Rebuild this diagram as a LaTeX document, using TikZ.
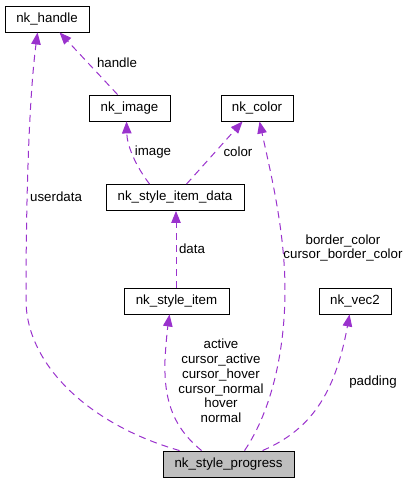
\documentclass[tikz,border=0pt]{standalone}
\usepackage{fontspec}
\setmainfont{Liberation Sans}
\usepackage{xcolor}
\usetikzlibrary{arrows.meta, positioning, calc}
\definecolor{edgepurple}{HTML}{9A32CD}
\definecolor{boxgray}{HTML}{BFBFBF}

\begin{document}
\begin{tikzpicture}[x=1pt, y=-1pt,
    cls/.style={draw, line width=0.9pt, minimum height=26pt, inner sep=0pt, font=\fontsize{13.3}{14.8}\selectfont},
    link/.style={-{Triangle[length=12pt, width=9.5pt]}, line width=1pt, dash pattern=on 7pt off 5pt, draw=edgepurple},
    lbl/.style={font=\fontsize{13.3}{14.8}\selectfont, align=center, inner sep=0pt}
]
\useasboundingbox (0,0) rectangle (409,483);
% Classes
\node[cls, minimum width=84pt] (handle) at (47,19) {nk\_handle};
\node[cls, minimum width=81pt] (image) at (129.5,108) {nk\_image};
\node[cls, minimum width=72pt] (color) at (257,108) {nk\_color};
\node[cls, minimum width=138pt] (itemdata) at (175,197.5) {nk\_style\_item\_data};
\node[cls, minimum width=105pt] (item) at (176.5,301) {nk\_style\_item};
\node[cls, minimum width=72pt] (vec2) at (355,301) {nk\_vec2};
\node[cls, fill=boxgray, minimum width=131pt] (prog) at (228.5,464) {nk\_style\_progress};
% Member links
\draw[link] ($(prog.north west)+(17,0)$) .. controls (90,425) and (26,365) .. (26,300)
    .. controls (26,180) and (30,90) .. ($(handle.south west)+(33,0)$);
\draw[link] ($(image.north west)+(29,0)$) -- ($(handle.south west)+(55,0)$);
\draw[link] ($(itemdata.north west)+(44,0)$) .. controls (135,165) and (127,145) .. ($(image.south west)+(38,0)$);
\draw[link] ($(itemdata.north west)+(81,0)$) -- ($(color.south west)+(22,0)$);
\draw[link] (item.north -| itemdata.south) ++(1,0) -- ($(itemdata.south)+(1,0)$);
\draw[link] ($(prog.north west)+(39,0)$) .. controls (170,425) and (164,395) .. (165,360)
    .. controls (166,340) and (168,325) .. ($(item.south west)+(46,0)$);
\draw[link] ($(prog.north west)+(82,0)$) .. controls (272,410) and (285,350) .. (285,290)
    .. controls (285,230) and (270,170) .. ($(color.south west)+(39,0)$);
\draw[link] ($(prog.north west)+(100,0)$) .. controls (310,430) and (335,395) .. ($(vec2.south west)+(31,0)$);
% Link labels
\node[lbl, anchor=west] (luserdata) at (30,197) {userdata};
\node[lbl] (lhandle) at (117,63) {handle};
\node[lbl] (limage) at (153,152) {image};
\node[lbl] (lcolor) at (238,152) {color};
\node[lbl] (ldata) at (192,249) {data};
\node[lbl] (lstates) at (221,381) {active\\cursor\_active\\cursor\_hover\\cursor\_normal\\hover\\normal};
\node[lbl] (lborder) at (343,248) {border\_color\\cursor\_border\_color};
\node[lbl] (lpadding) at (373,382) {padding};
\end{tikzpicture}
\end{document}
